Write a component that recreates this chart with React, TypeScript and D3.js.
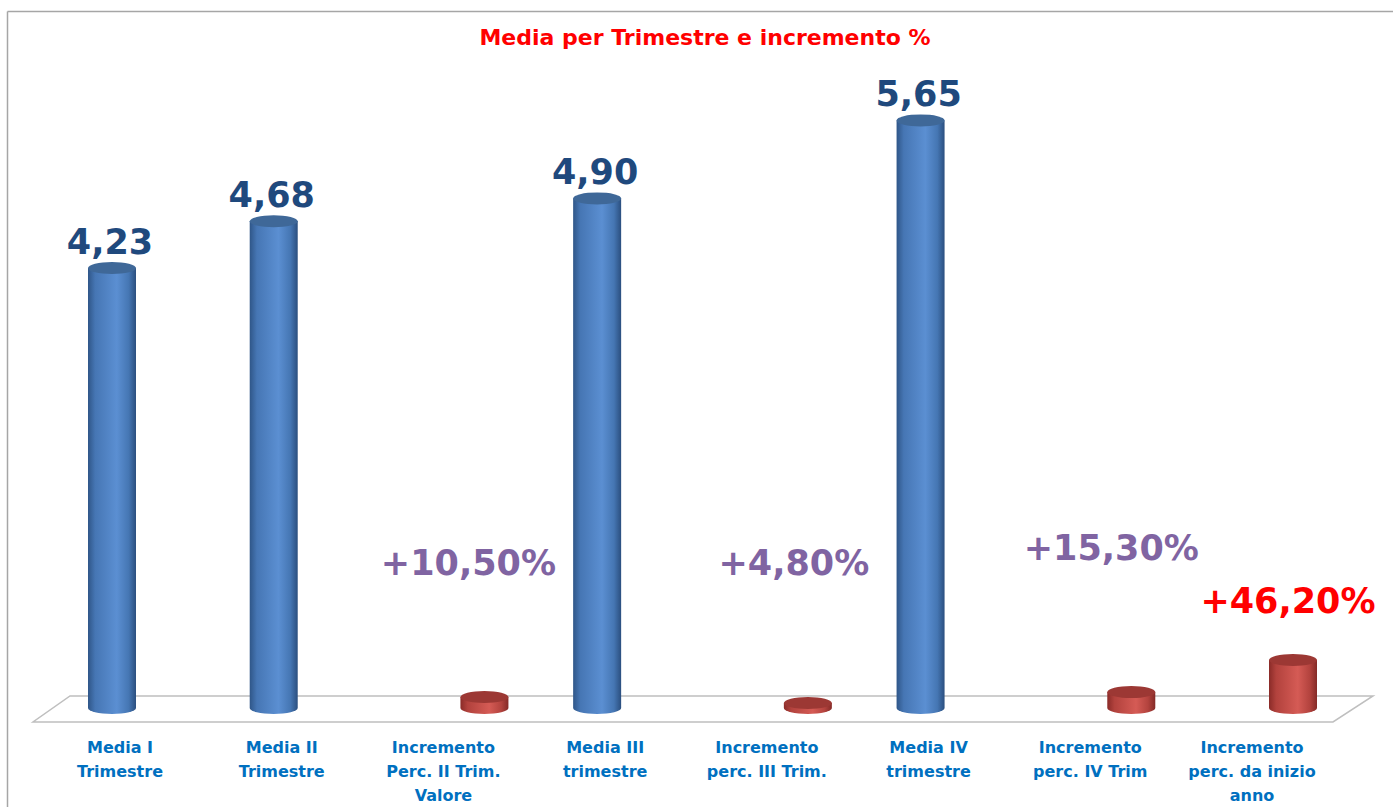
import React from "react";
import * as d3 from "d3";

// categories (x axis), in chart order
const categories = [
  "Media I|Trimestre",
  "Media II|Trimestre",
  "Incremento|Perc. II Trim.|Valore",
  "Media III|trimestre",
  "Incremento|perc. III Trim.",
  "Media IV|trimestre",
  "Incremento|perc. IV  Trim",
  "Incremento|perc. da inizio|anno",
];

// blue series: quarterly averages (null = no bar)
const mediaValues = [4.23, 4.68, null, 4.9, null, 5.65, null, null];
const mediaLabels = ["4,23", "4,68", "", "4,90", "", "5,65", "", ""];

// red series: percentage increments, as fractions
const incrValues = [null, null, 0.105, null, 0.048, null, 0.153, 0.462];
const incrLabels = ["", "", "+10,50%", "", "+4,80%", "", "+15,30%", "+46,20%"];

// manual placement of the % labels (excel had them dragged by hand)
const incrLabelNudge = [null, null, [-16, 575], null, [-14, 575], null, [-20, 560], [-5, 613]];

const W = 1393;
const H = 807;
const FONT = "'DejaVu Sans', Verdana, sans-serif";

const x = d3.scalePoint().domain(categories).range([120, 1252]);
const y = d3.scaleLinear().domain([0, 6]).range([708, 84]);

const RX = 24;
const RY = 6;
const BLUE_DX = -8;
const RED_DX = 41;

const Cylinder = ({ cx, v, grad, top }) => {
  const y0 = y(0);
  const y1 = y(v);
  const body = `M${cx - RX},${y1} L${cx - RX},${y0} A${RX},${RY} 0 0 0 ${cx + RX},${y0} L${cx + RX},${y1} Z`;
  return (
    <g>
      <path d={body} fill={`url(#${grad})`} />
      <ellipse cx={cx} cy={y1} rx={RX} ry={RY} fill={top} />
    </g>
  );
};

export default function App() {
  const floor = [
    [33, 722],
    [1333, 722],
    [1373, 696],
    [70, 696],
  ];
  return (
    <div style={{ position: "absolute", left: 0, top: 0 }}>
      <svg width={W} height={H} style={{ display: "block", background: "#fff" }}>
        <defs>
          <linearGradient id="gBlue" x1="0" x2="1" y1="0" y2="0">
            <stop offset="0" stopColor="#2f5688" />
            <stop offset="0.15" stopColor="#4676b4" />
            <stop offset="0.6" stopColor="#5b8fd2" />
            <stop offset="0.85" stopColor="#4576b3" />
            <stop offset="1" stopColor="#2b4f7f" />
          </linearGradient>
          <linearGradient id="gRed" x1="0" x2="1" y1="0" y2="0">
            <stop offset="0" stopColor="#8a2b28" />
            <stop offset="0.15" stopColor="#b2423d" />
            <stop offset="0.6" stopColor="#d55b55" />
            <stop offset="0.85" stopColor="#b3433e" />
            <stop offset="1" stopColor="#842a27" />
          </linearGradient>
        </defs>

        {/* chart area border: only top and left show */}
        <line x1={7.5} y1={11.5} x2={W} y2={11.5} stroke="#a6a6a6" strokeWidth={1.5} />
        <line x1={7.5} y1={11.5} x2={7.5} y2={H} stroke="#a6a6a6" strokeWidth={1.5} />

        <text x={705} y={45} textAnchor="middle" fontFamily={FONT} fontWeight="bold" fontSize={22} fill="#ff0000">
          Media per Trimestre e incremento %
        </text>

        {/* 3d floor */}
        <polygon points={floor.map((p) => p.join(",")).join(" ")} fill="#fff" stroke="#bfbfbf" strokeWidth={1.5} />

        {categories.map((c, i) => {
          const cx = x(c);
          return (
            <g key={i}>
              {mediaValues[i] != null && (
                <>
                  <Cylinder cx={cx + BLUE_DX} v={mediaValues[i]} grad="gBlue" top="#3f6898" />
                  <text
                    x={cx + BLUE_DX - 2}
                    y={y(mediaValues[i]) - 14}
                    textAnchor="middle"
                    fontFamily={FONT}
                    fontWeight="bold"
                    fontSize={35}
                    fill="#1f497d"
                  >
                    {mediaLabels[i]}
                  </text>
                </>
              )}
              {incrValues[i] != null && (
                <>
                  <Cylinder cx={cx + RED_DX} v={incrValues[i]} grad="gRed" top="#9c3834" />
                  <text
                    x={cx + RED_DX + incrLabelNudge[i][0]}
                    y={incrLabelNudge[i][1]}
                    textAnchor="middle"
                    fontFamily={FONT}
                    fontWeight="bold"
                    fontSize={35}
                    fill={i === categories.length - 1 ? "#ff0000" : "#8064a2"}
                  >
                    {incrLabels[i]}
                  </text>
                </>
              )}
              <text textAnchor="middle" fontFamily={FONT} fontWeight="bold" fontSize={16} fill="#0070c0">
                {c.split("|").map((line, j) => (
                  <tspan key={j} x={cx} y={753 + j * 24}>
                    {line}
                  </tspan>
                ))}
              </text>
            </g>
          );
        })}
      </svg>
    </div>
  );
}
